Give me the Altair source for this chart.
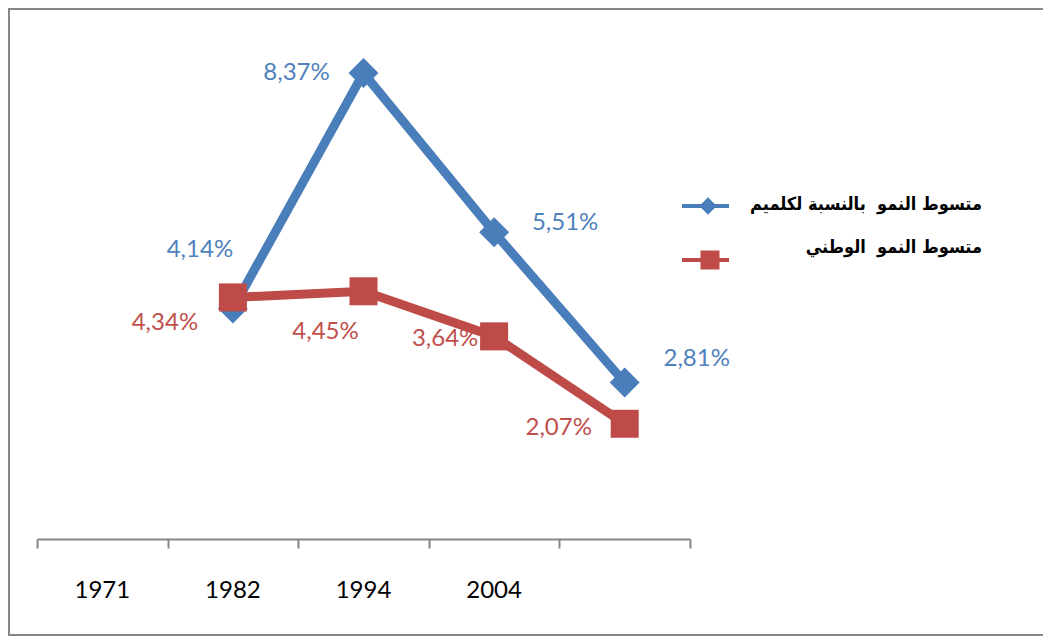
import altair as alt
import pandas as pd

# ---- data ----
years = ["1971", "1982", "1994", "2004"]
blue_vals = [4.14, 8.37, 5.51, 2.81]
red_vals = [4.34, 4.45, 3.64, 2.07]
blue_labels = ["4,14%", "8,37%", "5,51%", "2,81%"]
red_labels = ["4,34%", "4,45%", "3,64%", "2,07%"]
series_names = ["متسوط النمو \u00a0بالنسبة لكلميم", "متسوط النمو \u00a0الوطني"]

# label offsets (style: where the spreadsheet placed each data label)
blue_offsets = [(-33, -59), (-67, 0), (71, -9), (72, -24)]
red_offsets = [(-68, 26), (-38, 41), (-49, 3), (-66, 4)]

BLUE = "#4A7EBB"
RED = "#BE4B48"
BLUE_TXT = "#4F81BD"
RED_TXT = "#C0504D"
GRAY = "#868686"

# in the source the points sit one category to the right of the year labels
blue_df = pd.DataFrame({"pos": [i + 1.5 for i in range(len(blue_vals))], "val": blue_vals, "lab": blue_labels})
red_df = pd.DataFrame({"pos": [i + 1.5 for i in range(len(red_vals))], "val": red_vals, "lab": red_labels})
year_df = pd.DataFrame({"pos": [i + 0.5 for i in range(len(years))], "year": years})
one = pd.DataFrame({"k": [0]})

xs = alt.Scale(domain=[0, 5], nice=False, zero=False)
ys = alt.Scale(domain=[0, 9], nice=False, zero=True)

x_enc = alt.X(
    "pos:Q", scale=xs,
    axis=alt.Axis(values=[0, 1, 2, 3, 4, 5], labels=False, title=None, grid=False,
                  tickSize=9, tickColor=GRAY, tickWidth=2, domainColor=GRAY, domainWidth=2),
)
y_enc = alt.Y("val:Q", scale=ys, axis=None)

# chart-area frame (top, left and bottom edges; right edge lies outside the window)
frame_top = alt.Chart(one).mark_rule(color=GRAY, strokeWidth=2).encode(
    x=alt.value(-28), x2=alt.value(1100), y=alt.value(-29))
frame_left = alt.Chart(one).mark_rule(color=GRAY, strokeWidth=2).encode(
    x=alt.value(-28), y=alt.value(-30), y2=alt.value(598))
frame_bottom = alt.Chart(one).mark_rule(color=GRAY, strokeWidth=2).encode(
    x=alt.value(-28), x2=alt.value(1100), y=alt.value(597))

blue_line = alt.Chart(blue_df).mark_line(color=BLUE, strokeWidth=9).encode(x=x_enc, y=y_enc)
blue_pts = alt.Chart(blue_df).mark_point(shape="diamond", filled=True, size=900, color=BLUE, opacity=1).encode(x=x_enc, y=y_enc)
red_line = alt.Chart(red_df).mark_line(color=RED, strokeWidth=9).encode(x=x_enc, y=y_enc)
red_pts = alt.Chart(red_df).mark_point(shape="square", filled=True, size=784, color=RED, opacity=1).encode(x=x_enc, y=y_enc)

labels = []
for i, (dx, dy) in enumerate(blue_offsets):
    labels.append(
        alt.Chart(blue_df.iloc[[i]]).mark_text(font="Lato", fontSize=24, color=BLUE_TXT, dx=dx, dy=dy,
                                               align="center", baseline="middle")
        .encode(x=x_enc, y=y_enc, text="lab:N")
    )
for i, (dx, dy) in enumerate(red_offsets):
    labels.append(
        alt.Chart(red_df.iloc[[i]]).mark_text(font="Lato", fontSize=24, color=RED_TXT, dx=dx, dy=dy,
                                              align="center", baseline="middle")
        .encode(x=x_enc, y=y_enc, text="lab:N")
    )

year_text = alt.Chart(year_df).mark_text(font="Lato", fontSize=24, color="black", align="center", baseline="middle").encode(
    x=x_enc, y=alt.value(553), text="year:N"
)

# legend
leg_blue_line = alt.Chart(one).mark_rule(color=BLUE, strokeWidth=4).encode(x=alt.value(645), x2=alt.value(692), y=alt.value(168))
leg_blue_pt = alt.Chart(one).mark_point(shape="diamond", filled=True, size=300, color=BLUE, opacity=1).encode(x=alt.value(671), y=alt.value(168))
leg_red_line = alt.Chart(one).mark_rule(color=RED, strokeWidth=4).encode(x=alt.value(645), x2=alt.value(692), y=alt.value(222))
leg_red_pt = alt.Chart(one).mark_point(shape="square", filled=True, size=361, color=RED, opacity=1).encode(x=alt.value(673), y=alt.value(222))
leg_t1 = alt.Chart(pd.DataFrame({"t": [series_names[0]]})).mark_text(
    font="DejaVu Sans Condensed", fontSize=18, fontWeight="bold", color="black", align="right", baseline="middle"
).encode(x=alt.value(945), y=alt.value(167), text="t:N")
leg_t2 = alt.Chart(pd.DataFrame({"t": [series_names[1]]})).mark_text(
    font="DejaVu Sans Condensed", fontSize=18, fontWeight="bold", color="black", align="right", baseline="middle"
).encode(x=alt.value(945), y=alt.value(210), text="t:N")

chart = alt.layer(
    frame_top, frame_left, frame_bottom,
    blue_line, blue_pts, red_line, red_pts, *labels, year_text,
    leg_blue_line, leg_blue_pt, leg_red_line, leg_red_pt, leg_t1, leg_t2,
).properties(
    width=653, height=501, autosize="none",
    padding={"left": 29, "top": 30, "right": 353, "bottom": 97},
    background="white",
).configure_view(stroke=None)

chart.save("out.html", embed_options={"renderer": "svg", "actions": False})
